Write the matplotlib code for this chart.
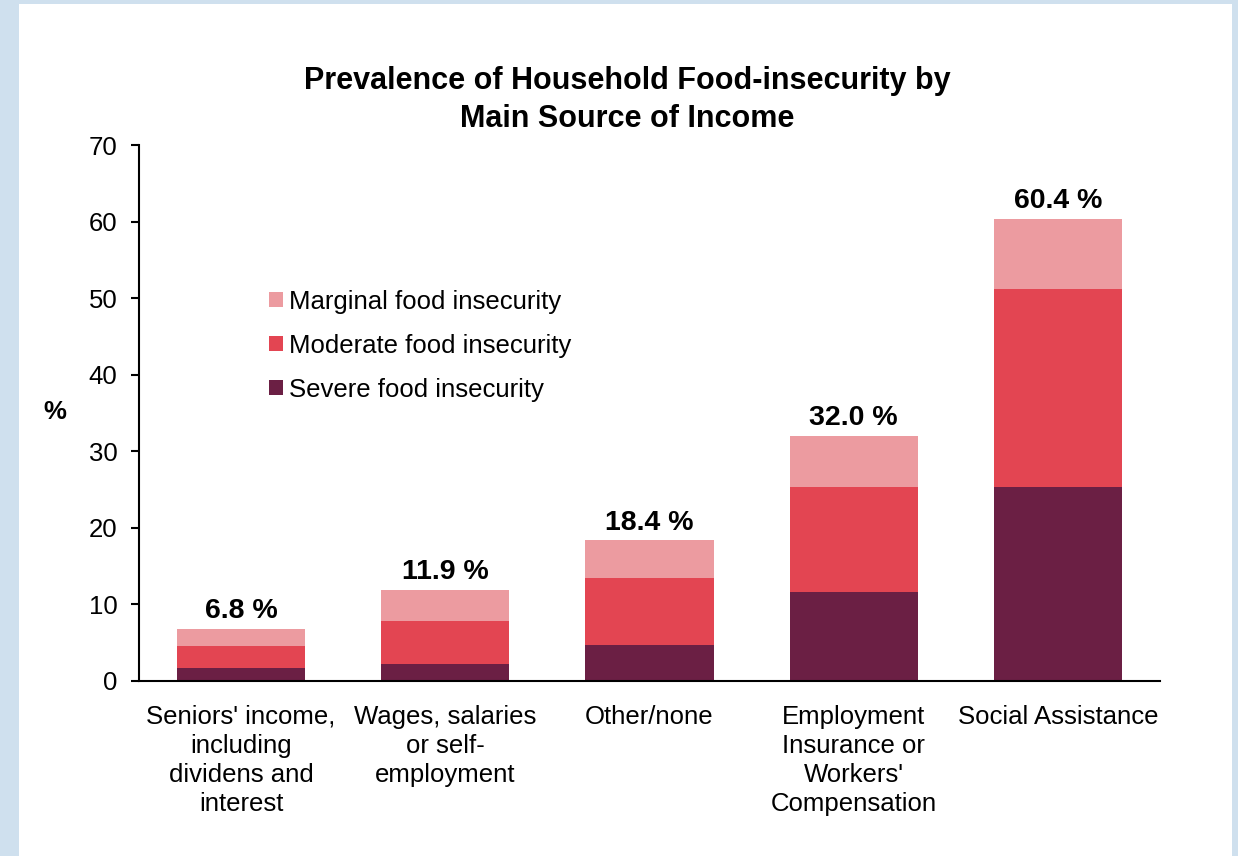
import matplotlib.pyplot as plt
from matplotlib.patches import Rectangle

categories = ["Seniors' income,\nincluding\ndividens and\ninterest",
              "Wages, salaries\nor self-\nemployment",
              "Other/none",
              "Employment\nInsurance or\nWorkers'\nCompensation",
              "Social Assistance"]
severe = [1.7, 2.2, 4.7, 11.6, 25.4]
moderate = [2.9, 5.6, 8.7, 13.7, 25.8]
marginal = [2.2, 4.1, 5.0, 6.7, 9.2]
totals = [6.8, 11.9, 18.4, 32.0, 60.4]

c_severe = "#6b1f44"
c_moderate = "#e34552"
c_marginal = "#ec9ba0"

plt.rcParams['font.family'] = ['Liberation Sans', 'DejaVu Sans']

fig = plt.figure(figsize=(12.38, 8.56), dpi=100)
fig.patch.set_facecolor("#cfe0ee")
fig.patches.append(Rectangle((19 / 1238, 0), (1232 - 19) / 1238, 1 - 4 / 856,
                             transform=fig.transFigure, facecolor="white",
                             edgecolor="none", zorder=-5))

ax = fig.add_axes([139 / 1238, 1 - 681 / 856, (1160 - 139) / 1238, (681 - 145) / 856])
ax.set_facecolor("none")

x = range(len(categories))
w = 0.627
b1 = ax.bar(x, severe, w, color=c_severe, label="Severe food insecurity")
bottom2 = [s for s in severe]
b2 = ax.bar(x, moderate, w, bottom=bottom2, color=c_moderate, label="Moderate food insecurity")
bottom3 = [s + m for s, m in zip(severe, moderate)]
b3 = ax.bar(x, marginal, w, bottom=bottom3, color=c_marginal, label="Marginal food insecurity")

for i, t in enumerate(totals):
    ax.text(i, t + 0.6, f"{t:.1f} %", ha="center", va="bottom",
            fontsize=20.5, fontweight="bold")

ax.set_xlim(-0.5, 4.5)
ax.set_ylim(0, 70)
ax.set_yticks(range(0, 71, 10))
ax.set_xticks(list(x))
ax.set_xticklabels(categories, fontsize=18.5, linespacing=1.27)
ax.tick_params(axis="x", length=0, pad=17)
ax.tick_params(axis="y", labelsize=18.5, length=5.5, width=1.5, direction="out", pad=10)
for s in ["top", "right"]:
    ax.spines[s].set_visible(False)
ax.spines["left"].set_linewidth(1.5)
ax.spines["bottom"].set_linewidth(1.5)

ax.set_ylabel("%", rotation=0, fontsize=18.5, fontweight="bold", labelpad=0, va="center")
ax.yaxis.set_label_coords(-0.082, 0.502)

handles = [b3, b2, b1]
ax.legend(handles, [h.get_label() for h in handles], loc="upper left",
          bbox_to_anchor=(0.127, 0.73), frameon=False, fontsize=18.5,
          handlelength=0.55, handleheight=0.55, handletextpad=0.25, labelspacing=0.78,
          borderaxespad=0, borderpad=0)

fig.text(627 / 1238, 1 - 100 / 856,
         "Prevalence of Household Food-insecurity by\nMain Source of Income",
         ha="center", va="center", fontsize=22, fontweight="bold", linespacing=1.32)

fig.savefig("out.png", dpi=100, facecolor=fig.get_facecolor())
